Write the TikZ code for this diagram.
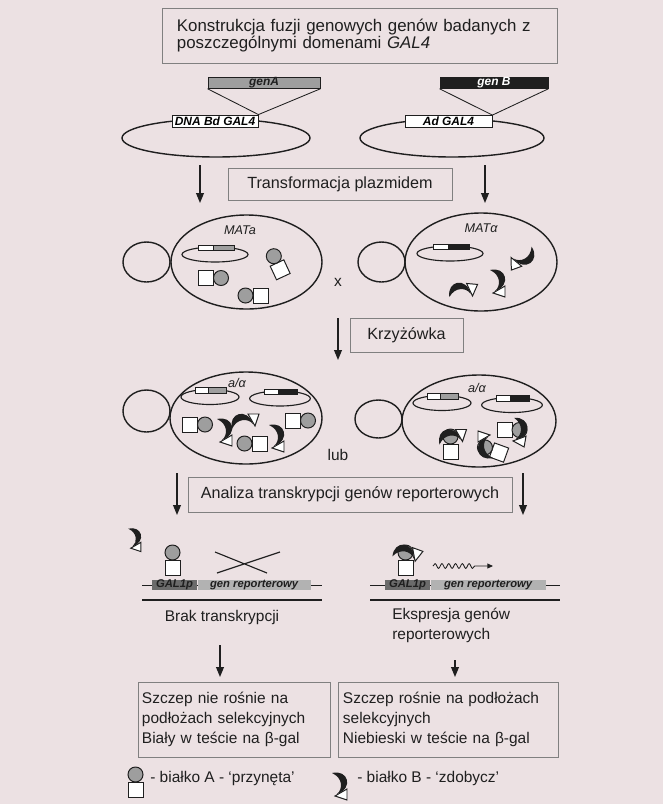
\documentclass[tikz,border=0pt]{standalone}
\usepackage{fontspec}
\setmainfont{Liberation Sans}
\usepackage{xcolor}
\definecolor{paper}{RGB}{236,225,227}
\definecolor{ink}{gray}{0.12}
\definecolor{frame}{gray}{0.50}
\definecolor{gbait}{gray}{0.62}
\definecolor{gprom}{gray}{0.42}
\definecolor{grep}{gray}{0.70}
\usepackage{tikz}
\usetikzlibrary{arrows.meta,positioning,decorations.pathmorphing}

\begin{document}
\begin{tikzpicture}[
  x=0.025cm, y=-0.025cm,
  font=\fontsize{11}{14.2}\selectfont,
  stepbox/.style={
    draw=frame, line width=0.6pt,
    inner sep=0pt, align=center, text=ink
  },
  genbar/.style={
    draw=ink, line width=0.6pt, inner sep=0pt,
    minimum height=0.25cm,
    font=\fontsize{8.5}{8.5}\selectfont\bfseries\itshape
  },
  galbox/.style={
    draw=ink, line width=0.6pt, fill=white, inner sep=0pt,
    minimum height=0.3cm,
    font=\fontsize{8.5}{8.5}\selectfont\bfseries\itshape
  },
  dnabox/.style={
    inner sep=0pt, minimum height=0.25cm,
    font=\fontsize{8}{8}\selectfont\bfseries\itshape, text=ink
  },
  tag/.style={inner sep=0pt, text=ink, font=\fontsize{9}{9}\selectfont\itshape},
  lbl/.style={inner sep=0pt, text=ink},
  wall/.style={draw=ink, line width=1pt},
  arr/.style={-{Triangle[length=7pt,width=5.5pt]}, line width=0.9pt, color=ink},
  bait/.pic={
    \draw[ink, fill=white, line width=0.7pt] (-7.5,0) rectangle (7.5,15);
    \draw[ink, fill=gbait, line width=0.7pt] (0,-7.5) circle[radius=7.5];
  },
  prey/.pic={
    \fill[ink] (-8,-11) .. controls (8,-15) and (14,4) .. (-3,10)
      .. controls (3,5) and (3,-6) .. (-8,-11) -- cycle;
    \draw[ink, fill=white, line width=0.7pt] (-5,12) -- (7,5) -- (7,16) -- cycle;
  },
  hybrid/.pic={
    \draw[ink, line width=0.8pt] (0,0) ellipse[x radius=33, y radius=7.5];
    \draw[ink, line width=0.5pt, fill=white] (-17,-9.5) rectangle (-2,-4);
    \draw[ink, line width=0.5pt, fill=\hybcol] (-2,-9.5) rectangle (19,-4);
  }
]
\useasboundingbox (0,0) rectangle (663,804);
\fill[paper] (0,0) rectangle (663,804);

% steps
\node[stepbox, minimum width=9.875cm, minimum height=1.375cm, text width=9.125cm, align=left,
  font=\fontsize{12}{11.7}\selectfont] (fusion) at (359.5,35.5)
  {Konstrukcja fuzji genowych genów badanych z\\poszczególnymi domenami \textit{GAL4}};
\node[stepbox, minimum width=5.6cm, minimum height=0.8cm, font=\fontsize{11.5}{14}\selectfont]
  (transf) at (340,184) {Transformacja plazmidem};
\node[stepbox, minimum width=2.825cm, minimum height=0.85cm, font=\fontsize{11.5}{14}\selectfont]
  (cross) at (406.5,335) {Krzyżówka};
\node[stepbox, minimum width=8.1cm, minimum height=0.875cm, font=\fontsize{11.5}{14}\selectfont]
  (assay) at (350,494.5) {Analiza transkrypcji genów reporterowych};

% plasmids
\draw[wall] (216,138) ellipse[x radius=94, y radius=19];
\draw[wall] (452,138) ellipse[x radius=92, y radius=19];
\node[genbar, fill=gbait, minimum width=2.8cm, text=ink] (genA) at (264,83) {genA};
\node[genbar, fill=ink, minimum width=2.7cm, text=white] (genB) at (494,83) {gen B};
\node[galbox, minimum width=2.15cm] (bdA) at (215,121) {DNA Bd GAL4};
\node[galbox, minimum width=2.175cm] (adB) at (448.5,121.5) {Ad GAL4};
\draw[ink, line width=0.6pt] (genA.south west) -- (bdA.north east) -- (genA.south east);
\draw[ink, line width=0.6pt] (genB.south west) -- (adB.north east) -- (genB.south east);

% haploid and diploid cells
\foreach \bx/\by/\brx/\bry/\cx/\cy/\crx/\cry in {
    146.5/262/23.5/20/246.5/262/75.5/47,
    381.5/262/23.5/20/481/262/76/49,
    146.5/411/23.5/21/246/418/76/46,
    378.5/419/23.5/19/479/421/77/46} {
  \draw[wall] (\bx,\by) ellipse[x radius=\brx, y radius=\bry];
  \draw[wall] (\cx,\cy) ellipse[x radius=\crx, y radius=\cry];
}
\node[tag] (matA) at (240,230) {MATa};
\node[tag] (matB) at (481,228) {MATα};
\node[tag] (dipL) at (237,383) {a/α};
\node[tag] (dipR) at (477,388) {a/α};

\def\hybcol{gbait}
\pic at (215,254.5) {hybrid};
\pic[xscale=0.88] at (210,397) {hybrid};
\pic[xscale=0.88] at (442,403) {hybrid};
\def\hybcol{ink}
\pic at (450,253.5) {hybrid};
\pic[xscale=0.92] at (280,398.5) {hybrid};
\pic[xscale=0.92] at (512,405) {hybrid};

% MATa cell
\pic[rotate=-90] at (213.5,278) {bait};
\pic[rotate=90] at (253,295.5) {bait};
\pic[rotate=25] at (277,263) {bait};
% MATalpha cell
\pic[rotate=-70] at (524,258) {prey};
\pic at (498,281) {prey};
\pic[rotate=85] at (461,290) {prey};
% diploid, no interaction
\pic[rotate=-90] at (197.5,424.5) {bait};
\pic at (225,430) {prey};
\pic[rotate=90] at (243,421) {prey};
\pic[rotate=90] at (252,443.5) {bait};
\pic at (277,436) {prey};
\pic[rotate=-90] at (300.5,420.5) {bait};
% diploid, interaction
\pic at (450.5,444) {bait};
\pic[rotate=90] at (450.5,436.5) {prey};
\pic[rotate=70] at (492,450) {bait};
\pic[rotate=180] at (485,447) {prey};
\pic[rotate=-90] at (512,430) {bait};
\pic[rotate=-10] at (520,430) {prey};

\node[lbl] (times) at (338,282) {x};
\node[lbl] (orr) at (338,455) {lub};

% reporter
\draw[ink, line width=0.6pt] (142,585) -- (322,585);
\draw[ink, line width=0.6pt] (370,585) -- (560,585);
\draw[ink, line width=1pt] (142,600) -- (322,600);
\draw[ink, line width=1pt] (370,600) -- (560,600);
\node[dnabox, fill=gprom, minimum width=1.125cm] (promL) at (174.5,585) {GAL1p};
\node[dnabox, fill=grep, minimum width=2.825cm, right=0pt of promL] (repL) {gen reporterowy};
\node[dnabox, fill=gprom, minimum width=1.125cm] (promR) at (407.5,585) {GAL1p};
\node[dnabox, fill=grep, minimum width=2.875cm, right=0pt of promR] (repR) {gen reporterowy};

\pic[scale=0.85] at (135,538) {prey};
\pic at (172.5,560) {bait};
\draw[ink, line width=0.8pt] (215,552) -- (267,573) (217,573) -- (280,552);
\pic at (405.5,560) {bait};
\pic[rotate=70] at (405.5,552.5) {prey};
\coordinate (mrna0) at (433,566);
\coordinate (mrna1) at (493,566);
\draw[ink, line width=0.6pt, -{Triangle[length=4pt,width=3.5pt]}, decorate,
  decoration={snake, amplitude=0.06cm, segment length=0.17cm, post length=0.45cm}]
  (mrna0) -- (mrna1);

\node[lbl] (capNo) at (222,617) {Brak transkrypcji};
\node[lbl, align=left, anchor=north west] (capYes) at (392,608) {Ekspresja genów\\reporterowych};

% outcome
\node[stepbox, minimum width=4.8cm, minimum height=1.875cm, text width=4.6cm, align=left]
  (resNo) at (234,719.5) {Szczep nie rośnie na\\podłożach selekcyjnych\\Biały w teście na β-gal};
\node[stepbox, minimum width=5.5cm, minimum height=1.875cm, text width=5.25cm, align=left]
  (resYes) at (448,719.5) {Szczep rośnie na podłożach\\selekcyjnych\\Niebieski w teście na β-gal};

% arrows
\coordinate (tA1) at (200,165);   \coordinate (tA2) at (200,203);
\coordinate (tB1) at (485,165);   \coordinate (tB2) at (485,203);
\coordinate (kr1) at (338,318);   \coordinate (kr2) at (338,360);
\coordinate (anA1) at (177,473);  \coordinate (anA2) at (177,515);
\coordinate (anB1) at (523,473);  \coordinate (anB2) at (523,515);
\coordinate (oA1) at (220,645);   \coordinate (oA2) at (220,677);
\coordinate (oB1) at (455,660);   \coordinate (oB2) at (455,677);
\foreach \s/\e in {tA1/tA2, tB1/tB2, kr1/kr2, anA1/anA2, anB1/anB2, oA1/oA2, oB1/oB2}
  \draw[arr] (\s) -- (\e);

% legend
\pic at (135.5,782) {bait};
\node[lbl, anchor=west] (legA) at (150,778) {- białko A - ‘przynęta’};
\pic at (340,784) {prey};
\node[lbl, anchor=west] (legB) at (357,778) {- białko B - ‘zdobycz’};
\end{tikzpicture}
\end{document}
